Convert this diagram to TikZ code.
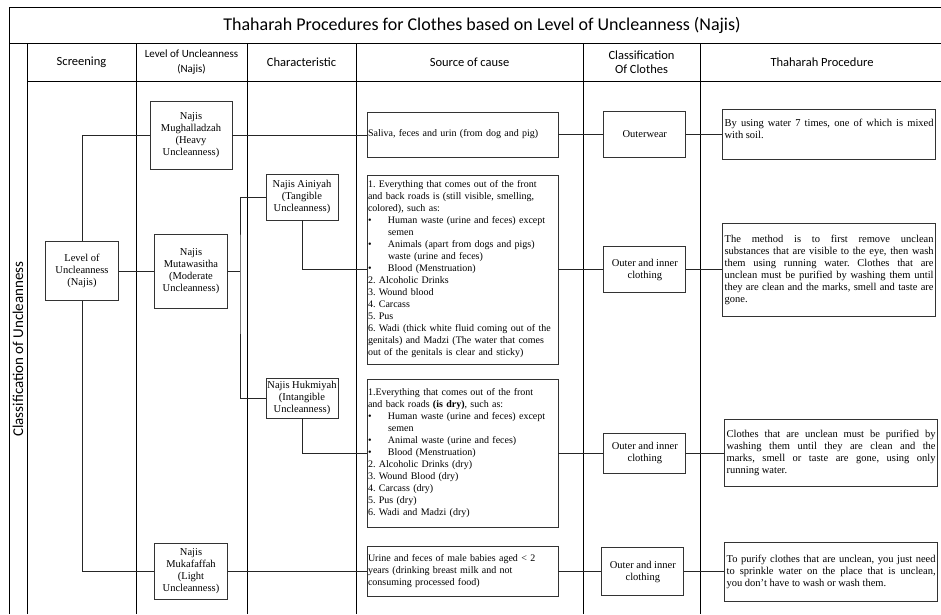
\documentclass[tikz,border=0pt]{standalone}
\usepackage{fontspec}
\setmainfont{Liberation Serif}
\newfontfamily\headfont{Carlito}
\usetikzlibrary{positioning,calc}

\newcommand{\bitem}{\makebox[20pt][l]{\textbullet}}
\newcommand{\bindent}{\hspace*{20pt}}

\begin{document}
\hyphenpenalty=10000
\frenchspacing
\begin{tikzpicture}[x=1pt, y=-1pt,
    tline/.style={draw=black, line width=0.9pt},
    head/.style={font=\headfont\fontsize{12.5}{14.5}\selectfont, align=center},
    box/.style={draw=black!80, line width=0.8pt, inner sep=2pt, inner xsep=1pt, align=center,
        font=\fontsize{10.5}{12}\selectfont},
    src/.style={box, text width=189pt, align=left, font=\fontsize{10}{12}\selectfont},
    prc/.style={box, inner xsep=2pt, text width=209pt, align=justify},
    link/.style={draw=black!85, line width=0.8pt}
]
    \useasboundingbox (0,0) rectangle (941,614);

    % Table frame
    \draw[tline] (941,7) -- (9,7) -- (9,614);
    \draw[tline] (9,43) -- (941,43);
    \draw[tline] (27,81) -- (941,81);
    \foreach \xc in {27,136,247,356,583,700}
        \draw[tline] (\xc,43) -- (\xc,614);

    % Title and column heads
    \node[font=\headfont\fontsize{18}{20}\selectfont] (title) at (482,25)
        {Thaharah Procedures for Clothes based on Level of Uncleanness (Najis)};
    \node[head] (hscr) at (81.5,62) {Screening};
    \node[head, font=\headfont\fontsize{11}{14.5}\selectfont] (hlvl) at (191.5,62) {Level of Uncleanness\\(Najis)};
    \node[head] (hchr) at (301.5,62) {Characteristic};
    \node[head] (hsrc) at (469.5,62) {Source of cause};
    \node[head] (hcls) at (641.5,62) {Classification\\Of Clothes};
    \node[head] (hprc) at (822,62) {Thaharah Procedure};
    \node[head, font=\headfont\fontsize{15}{16}\selectfont, rotate=90] (hside) at (18,349)
        {Classification of Uncleanness};

    % Screening
    \node[box, minimum width=73pt, minimum height=59pt] (lvl) at (82,271)
        {Level of\\Uncleanness\\(Najis)};

    % Level of uncleanness
    \node[box, minimum width=82pt, minimum height=68pt] (mug) at (191,135)
        {Najis\\Mughalladzah\\(Heavy\\Uncleanness)};
    \node[box, minimum width=73pt, minimum height=74pt] (mut) at (191,271)
        {Najis\\Mutawasitha\\(Moderate\\Uncleanness)};
    \node[box, minimum width=73pt, minimum height=56pt] (muk) at (191,571)
        {Najis\\Mukafaffah\\(Light\\Uncleanness)};

    % Characteristic
    \node[box, minimum width=72pt, minimum height=46pt] (ain) at (302,197)
        {Najis Ainiyah\\(Tangible\\Uncleanness)};
    \node[box, minimum width=72pt, minimum height=40pt] (huk) at (302,398)
        {Najis Hukmiyah\\(Intangible\\Uncleanness)};

    % Source of cause
    \node[src, minimum height=45pt] (src1) at (462.5,134.5)
        {Saliva, feces and urin (from dog and pig)};
    \node[src, minimum height=189pt] (src2) at (462.5,269.5) {%
        1. Everything that comes out of the front\\
        and back roads is (still visible, smelling,\\
        colored), such as:\\
        \bitem Human waste (urine and feces) except\\
        \bindent semen\\
        \bitem Animals (apart from dogs and pigs)\\
        \bindent waste (urine and feces)\\
        \bitem Blood (Menstruation)\\
        2. Alcoholic Drinks\\
        3. Wound blood\\
        4. Carcass\\
        5. Pus\\
        6. Wadi (thick white fluid coming out of the\\
        genitals) and Madzi (The water that comes\\
        out of the genitals is clear and sticky)%
    };
    \node[src, minimum height=148pt] (src3) at (462.5,453) {%
        1.Everything that comes out of the front\\
        and back roads \textbf{(is dry)}, such as:\\
        \bitem Human waste (urine and feces) except\\
        \bindent semen\\
        \bitem Animal waste (urine and feces)\\
        \bitem Blood (Menstruation)\\
        2. Alcoholic Drinks (dry)\\
        3. Wound Blood (dry)\\
        4. Carcass (dry)\\
        5. Pus (dry)\\
        6. Wadi and Madzi (dry)%
    };
    \node[src, minimum height=50pt] (src4) at (462.5,571.5)
        {Urine and feces of male babies aged < 2\\
        years (drinking breast milk and not\\
        consuming processed food)};

    % Classification of clothes
    \node[box, minimum width=82pt, minimum height=46pt, right=45pt of src1] (cls1) {Outerwear};
    \node[box, minimum width=82pt, minimum height=46pt, right=45pt of src2] (cls2) {Outer and inner\\clothing};
    \node[box, minimum width=82pt, minimum height=40pt, right=45pt of src3] (cls3) {Outer and inner\\clothing};
    \node[box, minimum width=82pt, minimum height=48pt, right=43pt of src4] (cls4) {Outer and inner\\clothing};

    % Thaharah procedure
    \node[prc, minimum height=50pt, right=36pt of cls1] (prc1)
        {By using water 7 times, one of which is mixed\linebreak with soil.\\ \mbox{}};
    \node[prc, minimum height=93pt, right=36pt of cls2] (prc2)
        {The method is to first remove unclean\linebreak
        substances that are visible to the eye, then wash\linebreak
        them using running water. Clothes that are\linebreak
        unclean must be purified by washing them until\linebreak
        they are clean and the marks, smell and taste are\linebreak
        gone.};
    \node[prc, minimum height=67pt, right=38pt of cls3] (prc3)
        {Clothes that are unclean must be purified by\linebreak
        washing them until they are clean and the\linebreak
        marks, smell or taste are gone, using only\linebreak
        running water.};
    \node[prc, minimum height=59pt, right=40pt of cls4] (prc4)
        {To purify clothes that are unclean, you just need\linebreak
        to sprinkle water on the place that is unclean,\linebreak
        you don't have to wash or wash them.};

    % Connectors
    \coordinate (fork) at (240,271);
    \draw[link] (lvl.north) |- (mug.west);
    \draw[link] (lvl.east) -- (mut.west);
    \draw[link] (lvl.south) |- (muk.west);
    \draw[link] (mut.east) -- (fork);
    \draw[link] (ain.west) -| (fork) |- (huk.west);
    \draw[link] (ain.south) |- (src2.west);
    \draw[link] (huk.south) |- (src3.west);
    \draw[link] (mug.east) -- (mug.east -| src1.west);
    \draw[link] (muk.east) -- (muk.east -| src4.west);
    \foreach \i in {1,...,4} {
        \draw[link] (src\i.east) -- (cls\i.west);
        \draw[link] (cls\i.east) -- (prc\i.west);
    }
\end{tikzpicture}
\end{document}
